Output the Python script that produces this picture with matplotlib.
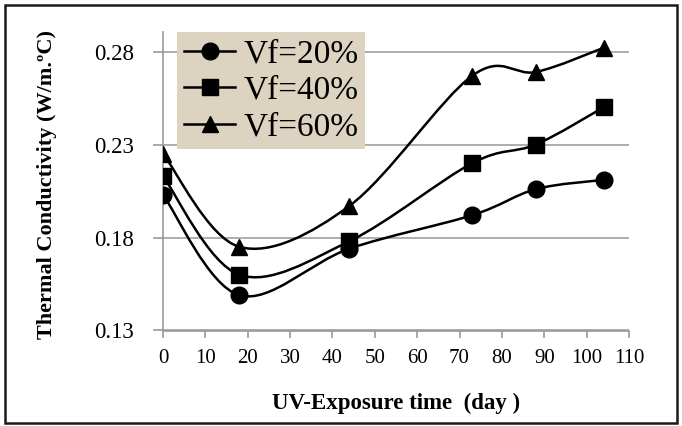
import numpy as np
import matplotlib
matplotlib.use('Agg')
import matplotlib.pyplot as plt
from matplotlib.path import Path
from matplotlib.patches import PathPatch, Rectangle
from matplotlib.lines import Line2D

# data
days = [0, 18, 44, 73, 88, 104]
vf20 = [0.203, 0.149, 0.174, 0.192, 0.206, 0.211]
vf40 = [0.213, 0.160, 0.178, 0.220, 0.230, 0.250]
vf60 = [0.225, 0.175, 0.197, 0.267, 0.269, 0.282]
labels = ['Vf=20%', 'Vf=40%', 'Vf=60%']
markers = ['o', 's', '^']
yticks = [0.13, 0.18, 0.23, 0.28]
xticks = list(range(0, 111, 10))


def smooth_path(x, y):
    # Excel-style smoothed line (Catmull-Rom as cubic Bezier)
    pts = list(zip(x, y))
    n = len(pts)
    verts = [pts[0]]
    codes = [Path.MOVETO]
    for i in range(n - 1):
        p0 = pts[i - 1] if i > 0 else pts[i]
        p1 = pts[i]
        p2 = pts[i + 1]
        p3 = pts[i + 2] if i + 2 < n else pts[i + 1]
        c1 = (p1[0] + (p2[0] - p0[0]) / 6, p1[1] + (p2[1] - p0[1]) / 6)
        c2 = (p2[0] - (p3[0] - p1[0]) / 6, p2[1] - (p3[1] - p1[1]) / 6)
        verts += [c1, c2, p2]
        codes += [Path.CURVE4] * 3
    return Path(verts, codes)


plt.rcParams['font.family'] = ['Liberation Serif', 'DejaVu Serif']

fig = plt.figure(figsize=(6.82, 4.26), dpi=100)
ax = fig.add_axes([163 / 682, 1 - 330.5 / 426, (629 - 163) / 682, (330.5 - 32) / 426])

handles = []
for vals, m, lab in zip([vf20, vf40, vf60], markers, labels):
    ax.add_patch(PathPatch(smooth_path(days, vals), facecolor='none',
                           edgecolor='black', lw=1.8, zorder=3))
    ax.plot(days, vals, linestyle='none', marker=m, markersize=12,
            color='black', zorder=4)
    handles.append(Line2D([], [], color='black', lw=1.8, marker=m,
                          markersize=12, label=lab))

ax.set_xlim(0, 110)
ax.set_ylim(0.13, 0.2905)
ax.set_xticks(xticks)
ax.set_yticks(yticks)
ax.set_yticklabels(['%.2f' % v for v in yticks])

for s in ['top', 'right']:
    ax.spines[s].set_visible(False)
for s in ['left', 'bottom']:
    ax.spines[s].set_color('#999999')
    ax.spines[s].set_linewidth(1.2)

ax.tick_params(axis='x', colors='#999999', length=5, width=1.2,
               labelcolor='black', labelsize=15, pad=8)
ax.tick_params(axis='y', colors='#999999', length=7, width=1.2,
               labelcolor='black', labelsize=16.5, pad=14)
ax.grid(axis='y', color='#a0a0a0', lw=1.2)
ax.set_axisbelow(True)

ax.set_xlabel('UV-Exposure time  (day )', fontsize=16.5, fontweight='bold')
ax.set_ylabel('Thermal Conductivity (W/m.\u00baC)', fontsize=16, fontweight='bold')
ax.xaxis.set_label_coords(0.5, -0.21)
ax.yaxis.set_label_coords(-0.228, 0.49)

leg = ax.legend(handles=handles, loc='upper left',
                bbox_to_anchor=(177 / 682, 1 - 32 / 426),
                bbox_transform=fig.transFigure, fontsize=24,
                frameon=True, fancybox=False, framealpha=1,
                facecolor='#dcd3c0', edgecolor='none',
                handlelength=1.55, handletextpad=0.25, labelspacing=0.18,
                borderpad=0.2, borderaxespad=0)
leg.set_zorder(5)

fig.patches.append(Rectangle((5 / 682, 3 / 426), 672 / 682, 418 / 426,
                             transform=fig.transFigure, fill=False,
                             edgecolor='#1a1a1a', lw=1.8))

fig.savefig('out.png', dpi=100)
